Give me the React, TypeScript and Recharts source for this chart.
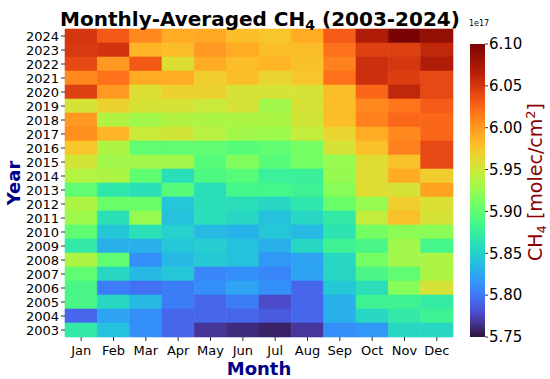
import React from 'react';
import { BarChart, Bar, XAxis, YAxis, Cell } from 'recharts';

const months = ['Jan', 'Feb', 'Mar', 'Apr', 'May', 'Jun', 'Jul', 'Aug', 'Sep', 'Oct', 'Nov', 'Dec'];
const years = [2003, 2004, 2005, 2006, 2007, 2008, 2009, 2010, 2011, 2012, 2013, 2014, 2015, 2016, 2017, 2018, 2019, 2020, 2021, 2022, 2023, 2024];

// Monthly-averaged CH4 column (units of 1e17 molec/cm^2), Jan..Dec
const v2003 = [5.87, 5.84, 5.813, 5.792, 5.767, 5.762, 5.758, 5.768, 5.813, 5.817, 5.855, 5.855];
const v2004 = [5.792, 5.823, 5.813, 5.792, 5.792, 5.792, 5.786, 5.792, 5.83, 5.855, 5.87, 5.88];
const v2005 = [5.888, 5.855, 5.835, 5.803, 5.792, 5.803, 5.778, 5.792, 5.83, 5.88, 5.88, 5.872];
const v2006 = [5.888, 5.803, 5.797, 5.803, 5.813, 5.823, 5.813, 5.792, 5.845, 5.86, 5.918, 5.955];
const v2007 = [5.9, 5.855, 5.835, 5.843, 5.808, 5.813, 5.808, 5.823, 5.855, 5.888, 5.9, 5.935];
const v2008 = [5.935, 5.9, 5.813, 5.835, 5.845, 5.84, 5.817, 5.823, 5.855, 5.91, 5.93, 5.935];
const v2009 = [5.87, 5.83, 5.83, 5.843, 5.848, 5.84, 5.83, 5.855, 5.88, 5.888, 5.93, 5.885];
const v2010 = [5.9, 5.843, 5.862, 5.85, 5.835, 5.832, 5.843, 5.835, 5.865, 5.91, 5.92, 5.92];
const v2011 = [5.928, 5.862, 5.925, 5.84, 5.86, 5.855, 5.84, 5.855, 5.87, 5.945, 5.978, 5.955];
const v2012 = [5.935, 5.905, 5.905, 5.843, 5.86, 5.86, 5.855, 5.867, 5.905, 5.925, 5.97, 5.957];
const v2013 = [5.9, 5.868, 5.862, 5.895, 5.86, 5.885, 5.885, 5.88, 5.918, 5.96, 5.955, 5.995];
const v2014 = [5.938, 5.935, 5.9, 5.86, 5.89, 5.895, 5.877, 5.877, 5.925, 5.96, 5.99, 5.97];
const v2015 = [5.952, 5.93, 5.93, 5.93, 5.895, 5.915, 5.895, 5.91, 5.925, 5.96, 5.978, 6.04];
const v2016 = [5.975, 5.935, 5.9, 5.9, 5.9, 5.895, 5.9, 5.91, 5.955, 5.978, 6.012, 6.04];
const v2017 = [6.005, 5.985, 5.948, 5.952, 5.94, 5.93, 5.928, 5.945, 5.965, 5.99, 6.008, 6.025];
const v2018 = [6.0, 5.937, 5.93, 5.937, 5.935, 5.935, 5.935, 5.952, 5.98, 6.012, 6.025, 6.025];
const v2019 = [5.955, 5.968, 5.955, 5.955, 5.948, 5.955, 5.93, 5.955, 5.98, 6.008, 6.018, 6.03];
const v2020 = [6.045, 6.0, 5.958, 5.968, 5.968, 5.955, 5.955, 5.955, 5.98, 6.025, 6.06, 6.04];
const v2021 = [6.008, 6.02, 5.99, 5.99, 5.97, 5.98, 5.965, 5.975, 6.02, 6.055, 6.046, 6.04];
const v2022 = [6.04, 6.0, 6.032, 5.958, 5.99, 5.98, 5.985, 5.978, 6.012, 6.055, 6.05, 6.07];
const v2023 = [6.048, 6.052, 5.985, 5.98, 6.0, 5.99, 5.98, 5.98, 6.02, 6.045, 6.045, 6.06];
const v2024 = [6.05, 6.032, 6.008, 5.99, 5.992, 5.98, 5.975, 5.99, 6.03, 6.07, 6.1, 6.085];

const valuesByYear = [v2003, v2004, v2005, v2006, v2007, v2008, v2009, v2010, v2011, v2012, v2013, v2014, v2015, v2016, v2017, v2018, v2019, v2020, v2021, v2022, v2023, v2024];

const VMIN = 5.75;
const VMAX = 6.1;
const cbTicks = [5.75, 5.8, 5.85, 5.9, 5.95, 6.0, 6.05, 6.1];
const monthTicks = [0.5, 1.5, 2.5, 3.5, 4.5, 5.5, 6.5, 7.5, 8.5, 9.5, 10.5, 11.5];

function polyTurbo(t: number): number[] {
  const r = 0.13572138 + t * (4.6153926 + t * (-42.66032258 + t * (132.13108234 + t * (-152.94239396 + t * 59.28637943))));
  const g = 0.09140261 + t * (2.19418839 + t * (4.84296658 + t * (-14.18503333 + t * (4.27729857 + t * 2.82956604))));
  const b = 0.1066733 + t * (12.64194608 + t * (-60.58204836 + t * (110.36276771 + t * (-89.90310912 + t * 27.34824973))));
  return [r, g, b].map((c) => Math.max(0, Math.min(1, c)) * 255);
}

function turbo(t: number): string {
  t = Math.max(0, Math.min(1, t));
  let c = polyTurbo(t);
  const lo = [48, 18, 59];
  const hi = [122, 4, 3];
  if (t < 0.05) {
    const a = polyTurbo(0.05);
    const f = t / 0.05;
    c = lo.map((v, i) => v + (a[i] - v) * f);
  } else if (t > 0.9) {
    const a = polyTurbo(0.9);
    const f = (t - 0.9) / 0.1;
    c = a.map((v, i) => v + (hi[i] - v) * f);
  }
  return `rgb(${Math.round(c[0])},${Math.round(c[1])},${Math.round(c[2])})`;
}

const colorOf = (v: number) => turbo((v - VMIN) / (VMAX - VMIN));

const tableData = years
  .map((y, i) => {
    const row: any = { year: String(y), vals: valuesByYear[i] };
    months.forEach((m) => {
      row[m] = 1;
    });
    return row;
  })
  .reverse();

const cbData = [{ name: 'cb', range: [VMIN, VMAX] }];

const gradStops = Array.from({ length: 41 }, (_, i) => i / 40);

const CbShape = (props: any) => {
  const { x, y, width, height } = props;
  const tri = height * 0.045;
  return (
    <g>
      <rect x={x} y={y} width={width} height={height} fill="url(#turboGrad)" />
      <path d={`M${x},${y} L${x + width},${y} L${x + width / 2},${y - tri} Z`} fill={turbo(1)} />
    </g>
  );
};

const FONT = 'DejaVu Sans, Verdana, sans-serif';
const NAVY = '#00008b';

export default function App() {
  return (
    <div style={{ position: 'absolute', left: 0, top: 0, width: 550, height: 379, background: '#fff', fontFamily: FONT }}>
      <svg width={0} height={0} style={{ position: 'absolute' }}>
        <defs>
          <linearGradient id="turboGrad" x1="0" y1="1" x2="0" y2="0">
            {gradStops.map((t) => (
              <stop key={t} offset={t} stopColor={turbo(t)} />
            ))}
          </linearGradient>
        </defs>
      </svg>

      <div style={{ position: 'absolute', left: 0, top: 0 }}>
        <BarChart
          width={550}
          height={379}
          data={tableData}
          layout="vertical"
          margin={{ top: 29, right: 97, bottom: 0, left: 0 }}
          barCategoryGap={0}
          barGap={0}
        >
          <XAxis
            type="number"
            domain={[0, 12]}
            ticks={monthTicks}
            interval={0}
            tickFormatter={(v: number) => months[Math.floor(v)]}
            height={42}
            axisLine={false}
            tickLine={{ stroke: '#333' }}
            tickSize={4}
            tickMargin={5}
            tick={{ fontSize: 13, fill: '#000', fontFamily: FONT }}
          />
          <YAxis
            type="category"
            dataKey="year"
            width={65}
            interval={0}
            axisLine={false}
            tickLine={{ stroke: '#333' }}
            tickSize={4}
            tickMargin={2}
            tick={{ fontSize: 13, fill: '#000', fontFamily: FONT }}
          />
          {months.map((m, mi) => (
            <Bar key={m} dataKey={m} stackId="a" isAnimationActive={false}>
              {tableData.map((d: any, di: number) => (
                <Cell key={di} fill={colorOf(d.vals[mi])} stroke={colorOf(d.vals[mi])} strokeWidth={0.6} />
              ))}
            </Bar>
          ))}
        </BarChart>
      </div>

      <div style={{ position: 'absolute', left: 470, top: 0 }}>
        <BarChart width={80} height={379} data={cbData} margin={{ top: 44, right: 0, bottom: 42, left: 0 }} barCategoryGap={0}>
          <XAxis dataKey="name" hide />
          <YAxis
            orientation="right"
            type="number"
            domain={[VMIN, VMAX]}
            ticks={cbTicks}
            interval={0}
            allowDataOverflow
            width={65}
            axisLine={false}
            tickLine={{ stroke: '#333' }}
            tickSize={3}
            tickMargin={1}
            tickFormatter={(v: number) => v.toFixed(2)}
            tick={{ fontSize: 15, fill: '#000', fontFamily: FONT }}
          />
          <Bar dataKey="range" shape={CbShape} isAnimationActive={false} />
        </BarChart>
      </div>

      <svg width={550} height={379} style={{ position: 'absolute', left: 0, top: 0, pointerEvents: 'none' }}>
        <text x={260} y={26} textAnchor="middle" fontSize={20} fontWeight="bold" fill="#000" fontFamily={FONT}>
          Monthly-Averaged CH
          <tspan fontSize={14} dy={4}>4</tspan>
          <tspan dy={-4}> (2003-2024)</tspan>
        </text>
        <text x={20} y={183} transform="rotate(-90, 20, 183)" textAnchor="middle" fontSize={18} fontWeight="bold" fill={NAVY} fontFamily={FONT}>
          Year
        </text>
        <text x={259} y={375} textAnchor="middle" fontSize={18} fontWeight="bold" fill={NAVY} fontFamily={FONT}>
          Month
        </text>
        <text x={469} y={26} fontSize={8} fill="#000" fontFamily={FONT}>
          1e17
        </text>
        <text x={542} y={182} transform="rotate(-90, 542, 182)" textAnchor="middle" fontSize={19} fill="#8b0000" fontFamily={FONT}>
          CH
          <tspan fontSize={13} dy={4}>4</tspan>
          <tspan dy={-4}> [molec/cm</tspan>
          <tspan fontSize={13} dy={-7}>2</tspan>
          <tspan dy={7}>]</tspan>
        </text>
      </svg>
    </div>
  );
}
